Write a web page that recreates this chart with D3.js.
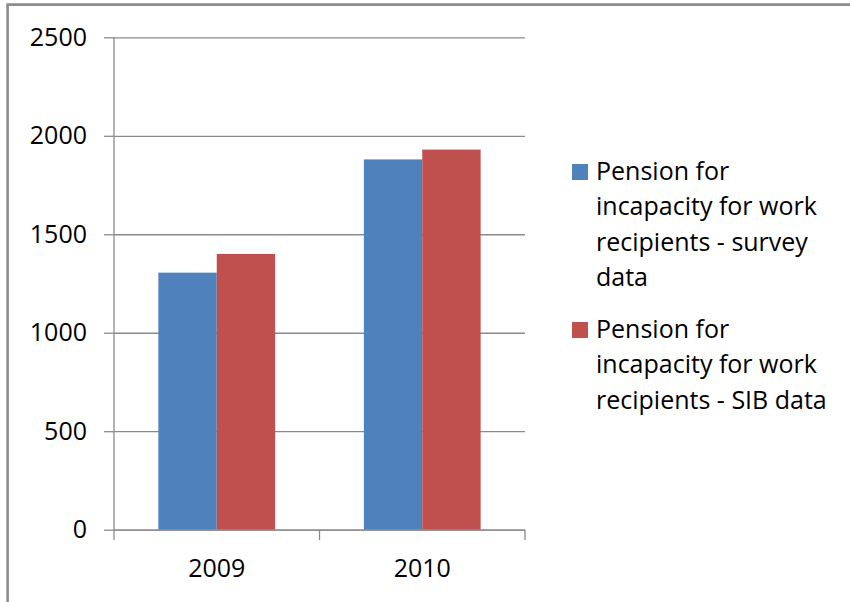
<!DOCTYPE html>
<html>
<head>
<meta charset="utf-8">
<script src="https://cdn.jsdelivr.net/npm/d3@7"></script>
<style>
  html, body { margin: 0; padding: 0; background: #fff; }
  svg { display: block; }
  text { font-family: "Open Sans", "DejaVu Sans", sans-serif; fill: #000; }
</style>
</head>
<body>
<svg id="chart" width="850" height="602"></svg>
<script>
// Categories, series and tick labels
const years = ["2009", "2010"];
const surveyValues = [1305, 1880];
const sibValues = [1400, 1930];
const seriesNames = [
  ["Pension for", "incapacity for work", "recipients - survey", "data"],
  ["Pension for", "incapacity for work", "recipients - SIB data"]
];
const seriesColors = ["#4F81BD", "#C0504D"];
const yTicks = [0, 500, 1000, 1500, 2000, 2500];

const svg = d3.select("#chart");

// Frame around the chart area
svg.append("path")
  .attr("d", "M7.6,602 L7.6,4.6 L850,4.6")
  .attr("fill", "none")
  .attr("stroke", "#8c8c8c")
  .attr("stroke-width", 2.6);

const plot = { left: 114, right: 525, top: 37.3, bottom: 529.7 };

const y = d3.scaleLinear().domain([0, 2500]).range([plot.bottom, plot.top]);
const x0 = d3.scaleBand().domain(years).range([plot.left, plot.right]).padding(0);
const x1 = d3.scaleBand().domain([0, 1]).range([0, x0.bandwidth()])
  .paddingInner(0).paddingOuter(0.76);

const gridColor = "#8a8a8a";

// Horizontal gridlines with their left tick stubs
const yAxis = d3.axisLeft(y).tickValues(yTicks).tickSize(10).tickFormat(d3.format("d"));
const gy = svg.append("g").attr("transform", `translate(${plot.left},0)`).call(yAxis);
gy.select(".domain").remove();
gy.selectAll(".tick line").attr("stroke", gridColor).attr("stroke-width", 1.3);
gy.selectAll(".tick").append("line")
  .attr("x1", 0).attr("x2", plot.right - plot.left)
  .attr("stroke", gridColor).attr("stroke-width", 1.3);
gy.selectAll(".tick text")
  .attr("x", -27)
  .attr("dy", null)
  .attr("y", 8)
  .attr("font-size", 25)
  .attr("fill", "#000")
  .style("font-family", '"Open Sans", sans-serif');

// Vertical axis line, running down to the category tick length
svg.append("line")
  .attr("x1", plot.left).attr("x2", plot.left)
  .attr("y1", plot.top).attr("y2", plot.bottom + 10.3)
  .attr("stroke", gridColor).attr("stroke-width", 1.3);

// Bars
const groups = svg.append("g").selectAll("g")
  .data(years.map((yr, i) => ({ yr, vals: [surveyValues[i], sibValues[i]] })))
  .join("g")
  .attr("transform", d => `translate(${x0(d.yr)},0)`);

groups.selectAll("rect")
  .data(d => d.vals.map((v, s) => ({ v, s })))
  .join("rect")
  .attr("x", d => x1(d.s))
  .attr("width", x1.bandwidth())
  .attr("y", d => y(d.v))
  .attr("height", d => y(0) - y(d.v))
  .attr("fill", d => seriesColors[d.s]);

// Category axis
const xAxis = d3.axisBottom(x0).tickSize(0).tickFormat(d => d);
const gx = svg.append("g").attr("transform", `translate(0,${plot.bottom})`).call(xAxis);
gx.select(".domain").attr("d", `M${plot.left},0.5H${plot.right}`)
  .attr("stroke", gridColor).attr("stroke-width", 1.3);
gx.selectAll(".tick text")
  .attr("y", 47.5)
  .attr("dy", null)
  .attr("font-size", 25)
  .attr("fill", "#000")
  .style("font-family", '"Open Sans", sans-serif');

// Category boundary ticks
const boundaries = years.map(yr => x0(yr) + x0.bandwidth());
gx.selectAll("line.bound")
  .data(boundaries)
  .join("line")
  .attr("class", "bound")
  .attr("x1", d => d).attr("x2", d => d)
  .attr("y1", 0).attr("y2", 10.3)
  .attr("stroke", gridColor).attr("stroke-width", 1.3);

// Legend
const legendTops = [164, 322];
const lineGap = 35.3;
const legend = svg.append("g");
seriesNames.forEach((lines, s) => {
  const g = legend.append("g");
  g.append("rect")
    .attr("x", 572).attr("y", legendTops[s])
    .attr("width", 16).attr("height", 16)
    .attr("fill", seriesColors[s]);
  g.selectAll("text")
    .data(lines)
    .join("text")
    .attr("x", 596)
    .attr("y", (d, i) => legendTops[s] + 16 + i * lineGap)
    .attr("font-size", 25)
    .text(d => d);
});
</script>
</body>
</html>
